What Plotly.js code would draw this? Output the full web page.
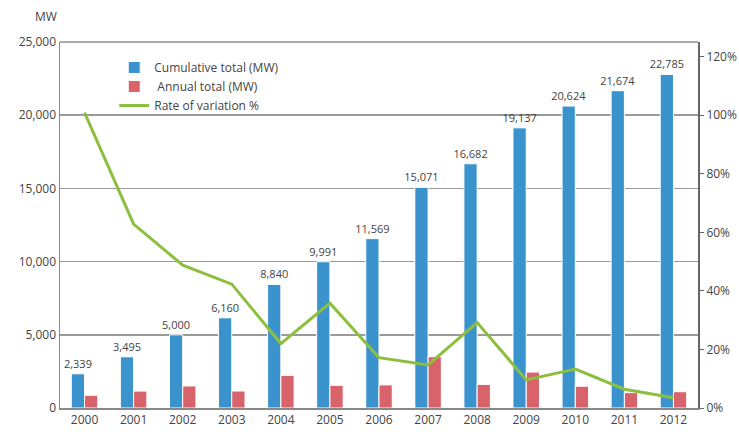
<!DOCTYPE html>
<html>
<head>
<meta charset="utf-8">
<script src="https://cdn.plot.ly/plotly-3.0.1.min.js"></script>
<style>html,body{margin:0;padding:0;background:#fff;}#chart{width:739px;height:432px;}</style>
</head>
<body>
<div id="chart"></div>
<script>
var years = ['2000','2001','2002','2003','2004','2005','2006','2007','2008','2009','2010','2011','2012'];
var cumulative = [2339, 3495, 5000, 6160, 8440, 9991, 11569, 15071, 16682, 19137, 20624, 21674, 22785];
var cumulativeLabels = ['2,339','3,495','5,000','6,160','8,840','9,991','11,569','15,071','16,682','19,137','20,624','21,674','22,785'];
var annual = [870, 1156, 1505, 1160, 2230, 1550, 1578, 3502, 1611, 2455, 1487, 1050, 1111];
var rate = [100.9, 62.8, 48.8, 42.3, 22.0, 35.8, 17.2, 14.7, 29.2, 9.6, 13.3, 6.4, 3.5];

var font = 'Open Sans, Noto Sans, sans-serif';

var traces = [
  {type:'bar', x:years, y:cumulative, name:'Cumulative total (MW)',
   marker:{color:'#3b93cd', line:{color:'#ffffff', width:1}},
   text:cumulativeLabels, textposition:'outside', constraintext:'none', cliponaxis:false,
   textfont:{size:11, color:'#444', family:font}, hoverinfo:'y'},
  {type:'bar', x:years, y:annual, name:' Annual total (MW)',
   marker:{color:'#d9636b', line:{color:'#ffffff', width:1}}},
  {type:'scatter', mode:'lines', x:years, y:rate, yaxis:'y2', name:'Rate of variation %',
   line:{color:'#8dbf3f', width:3}}
];

var layout = {
  width:739, height:432,
  margin:{l:60, r:41, t:42, b:24},
  paper_bgcolor:'#fff', plot_bgcolor:'#fff',
  font:{family:font, size:12, color:'#444'},
  barmode:'group', bargap:0.46, bargroupgap:0,
  showlegend:true,
  legend:{x:0.085, y:0.97, xanchor:'left', yanchor:'top', bgcolor:'rgba(0,0,0,0)',
          font:{size:12, color:'#444', family:font}, tracegroupgap:0, traceorder:'normal'},
  xaxis:{type:'category', showgrid:false, showline:true, linecolor:'#888', linewidth:1.5,
         ticks:'', tickfont:{size:12, color:'#444'}, zeroline:false},
  yaxis:{range:[0,25000], dtick:5000, tickformat:',', showgrid:true, gridcolor:'#9a9a9a', gridwidth:1.5,
         showline:true, linecolor:'#888', linewidth:1.5, ticks:'', zeroline:false,
         tickfont:{size:12, color:'#444'}},
  yaxis2:{range:[0,125], dtick:20, ticksuffix:'%', overlaying:'y', side:'right', showgrid:false,
          showline:true, linecolor:'#666', linewidth:2, ticks:'outside', ticklen:4, tickcolor:'#666',
          zeroline:false, tickfont:{size:12, color:'#444'}},
  shapes:[{type:'line', xref:'paper', yref:'paper', x0:0, x1:1, y0:1, y1:1, line:{color:'#aaa', width:2}}],
  annotations:[{text:'MW', xref:'paper', yref:'paper', x:-0.022, y:1.071, xanchor:'center', yanchor:'middle',
                showarrow:false, font:{size:12, color:'#444'}}]
};

Plotly.newPlot('chart', traces, layout, {displayModeBar:false, staticPlot:true});
</script>
</body>
</html>
